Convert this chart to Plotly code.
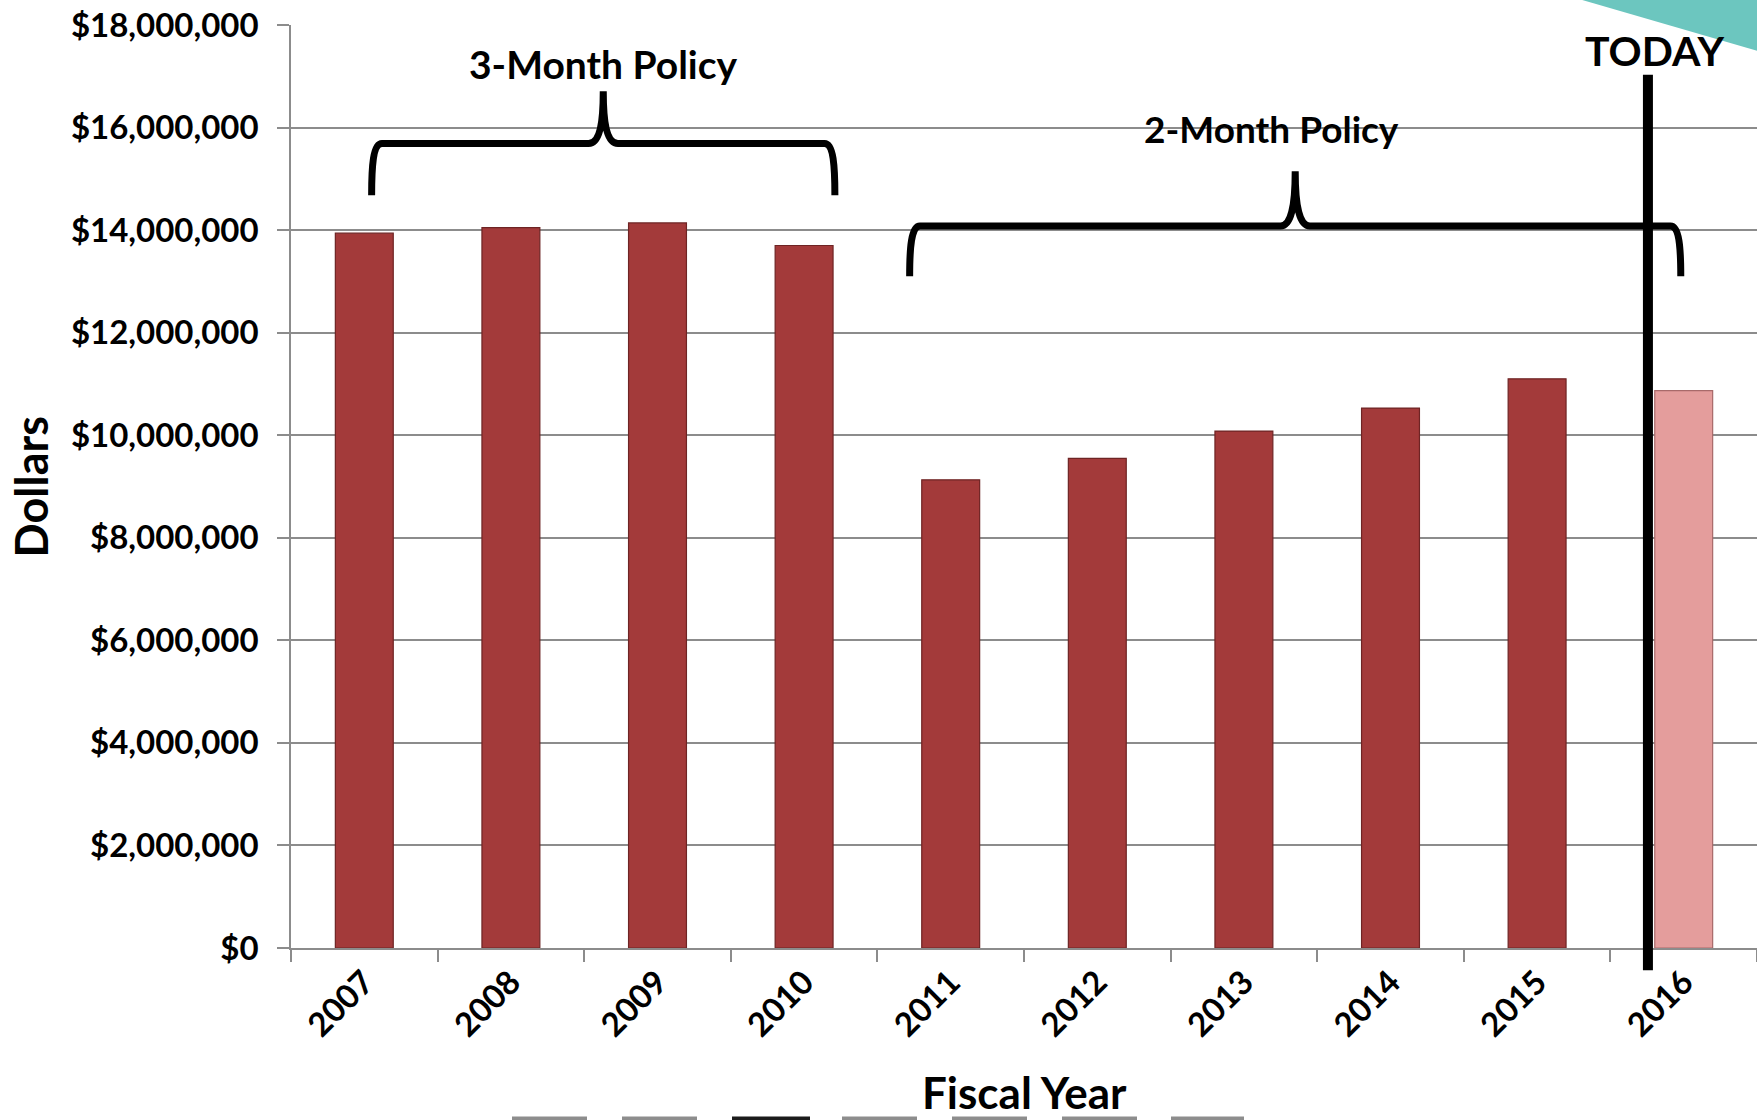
import plotly.graph_objects as go

# Fiscal-year spending, in dollars
fiscal_years = [2007, 2008, 2009, 2010, 2011, 2012, 2013, 2014, 2015, 2016]
dollars = [13940000, 14050000, 14140000, 13700000, 9130000,
           9550000, 10080000, 10530000, 11100000, 10870000]
is_projection = [False, False, False, False, False, False, False, False, False, True]

y_ticks = [0, 2000000, 4000000, 6000000, 8000000, 10000000,
           12000000, 14000000, 16000000, 18000000]

ACTUAL = "#a33a3a"
ACTUAL_EDGE = "#6e2424"
PROJ = "#e49d9c"
PROJ_EDGE = "#a86a6a"
GRID = "#8c8c8c"
FONT = "Lato"

bar_colors = [PROJ if p else ACTUAL for p in is_projection]
edge_colors = [PROJ_EDGE if p else ACTUAL_EDGE for p in is_projection]

fig = go.Figure()
fig.add_trace(go.Bar(
    x=fiscal_years,
    y=dollars,
    marker=dict(color=bar_colors, line=dict(color=edge_colors, width=1.2)),
    width=0.395,
    showlegend=False,
    hoverinfo="x+y",
))


def brace_path(x0, x1, xm, y_end, y_bar, y_tip, corner=0.07, notch=0.1):
    """Curly brace opening downward, tip pointing up at xm."""
    leg = y_end + 0.55 * (y_bar - y_end)
    rise = y_bar + 0.35 * (y_tip - y_bar)
    return (
        f"M{x0},{y_end} "
        f"C{x0},{leg} {x0 + 0.01},{y_bar} {x0 + corner},{y_bar} "
        f"L{xm - notch},{y_bar} "
        f"C{xm - notch * 0.3},{y_bar} {xm},{rise} {xm},{y_tip} "
        f"C{xm},{rise} {xm + notch * 0.3},{y_bar} {xm + notch},{y_bar} "
        f"L{x1 - corner},{y_bar} "
        f"C{x1 - 0.01},{y_bar} {x1},{leg} {x1},{y_end}"
    )


shapes = [
    # 3-month policy brace
    dict(type="path", xref="x", yref="y",
         path=brace_path(2007.05, 2010.21, 2008.63, 14680000, 15690000, 16710000),
         line=dict(color="black", width=7), layer="above"),
    # 2-month policy brace
    dict(type="path", xref="x", yref="y",
         path=brace_path(2010.72, 2015.98, 2013.35, 13100000, 14080000, 15150000),
         line=dict(color="black", width=7), layer="above"),
    # "today" marker
    dict(type="line", xref="x", yref="paper", x0=2015.756, x1=2015.756,
         y0=-0.024, y1=0.946, line=dict(color="black", width=10), layer="above"),
    # teal corner accent
    dict(type="path", xref="paper", yref="paper",
         path="M0.8745,1.03 L1.0,1.03 L1.0,0.972 Z",
         fillcolor="#6cc6bf", line=dict(width=0), layer="above"),
]

# strip of tabs along the bottom edge
tab_edges = [(512, 587), (622, 697), (732, 810), (842, 917),
             (952, 1027), (1062, 1137), (1171, 1244)]
for i, (a, b) in enumerate(tab_edges):
    shapes.append(dict(
        type="rect", xref="paper", yref="paper",
        x0=(a - 291) / 1466, x1=(b - 291) / 1466, y0=-0.1885, y1=-0.1825,
        fillcolor="#1c1c1c" if i == 2 else "#8d8d8d", line=dict(width=0),
        layer="above"))

bold = dict(family=FONT, color="black", weight="bold")

annotations = [
    dict(text="3-Month Policy", x=2008.63, y=17240000, xref="x", yref="y",
         xanchor="center", yanchor="middle", showarrow=False,
         font=dict(bold, size=39)),
    dict(text="2-Month Policy", x=2013.19, y=15990000, xref="x", yref="y",
         xanchor="center", yanchor="middle", showarrow=False,
         font=dict(bold, size=37)),
    dict(text="TODAY", x=2015.8, y=17500000, xref="x", yref="y",
         xanchor="center", yanchor="middle", showarrow=False,
         font=dict(bold, size=41)),
    dict(text="Dollars", x=-0.1774, y=0.5, xref="paper", yref="paper",
         xanchor="center", yanchor="middle", textangle=-90, showarrow=False,
         font=dict(bold, size=45)),
    dict(text="Fiscal Year", x=0.5, y=-0.156, xref="paper", yref="paper",
         xanchor="center", yanchor="middle", showarrow=False,
         font=dict(bold, size=44)),
]

fig.update_layout(
    width=1757,
    height=1120,
    autosize=False,
    margin=dict(l=291, r=0, t=25, b=172),
    paper_bgcolor="white",
    plot_bgcolor="white",
    shapes=shapes,
    annotations=annotations,
    bargap=0.6,
)

fig.update_xaxes(
    range=[2006.5, 2016.5],
    tickmode="array",
    tickvals=fiscal_years,
    ticktext=[str(y) for y in fiscal_years],
    tickangle=-45,
    ticks="",
    ticklabelstandoff=0,
    tickfont=dict(bold, size=33),
    showline=True, linecolor=GRID, linewidth=1.5,
    showgrid=False, zeroline=False,
    minor=dict(tick0=2006.5, dtick=1, ticks="outside", ticklen=12,
               tickcolor=GRID, tickwidth=1.5, showgrid=False),
)

fig.update_yaxes(
    range=[0, 18000000],
    tickmode="array",
    tickvals=y_ticks,
    tickformat="$,.0f",
    ticks="outside", ticklen=12, tickcolor=GRID, tickwidth=1.5,
    ticklabelstandoff=12,
    tickfont=dict(bold, size=33),
    showline=True, linecolor=GRID, linewidth=1.5,
    showgrid=True, gridcolor=GRID, gridwidth=1.5,
    zeroline=False,
)

fig.write_html("out.html")
